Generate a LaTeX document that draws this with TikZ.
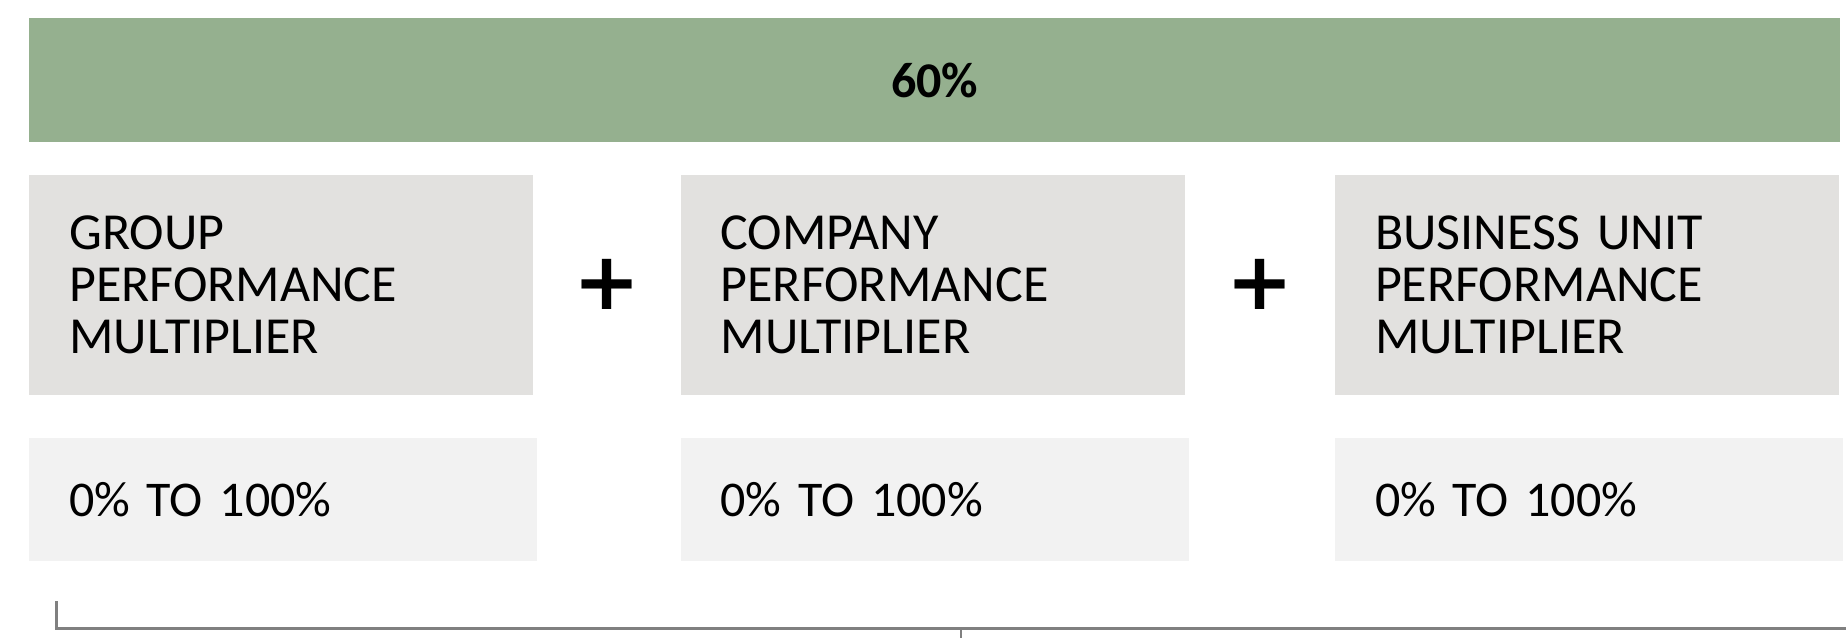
\documentclass[tikz,border=0pt]{standalone}
\usepackage{fontspec}
\setmainfont{Carlito}
\newfontfamily\plusfont{DejaVu Sans}
\usetikzlibrary{positioning,calc}

\definecolor{sagegreen}{HTML}{95B08F}
\definecolor{metricgray}{HTML}{E2E1DF}
\definecolor{rangegray}{HTML}{F2F2F2}
\definecolor{bracketgray}{HTML}{808080}

\begin{document}
\begin{tikzpicture}[x=1pt,y=1pt]
        \tikzstyle{sharebar}=[fill=sagegreen,minimum width=1811pt,minimum height=124pt,inner sep=0pt,font=\fontsize{50}{50}\selectfont\bfseries]
        \tikzstyle{metricbox}=[fill=metricgray,minimum width=504pt,minimum height=220pt,text width=424pt,inner xsep=40pt,inner ysep=0pt,align=left,font=\fontsize{52}{52}\selectfont]
        \tikzstyle{rangebox}=[fill=rangegray,minimum width=508pt,minimum height=123pt,text width=428pt,inner xsep=40pt,inner ysep=0pt,align=left,font=\fontsize{50}{50}\selectfont]
        \tikzstyle{plussign}=[inner sep=0pt,font=\plusfont\bfseries\fontsize{80}{80}\selectfont]
        \tikzstyle{bracketline}=[draw=bracketgray,line width=2.5pt]
        \useasboundingbox (0,0) rectangle (1846,-638);

        \node[sharebar,anchor=north west] (share) at (29,-18) {60\%};

        \node[metricbox] (group) [below right=32pt and 0pt of share.south west] {GROUP\\PERFORMANCE\\MULTIPLIER};
        \node[metricbox] (company) [right=147pt of group] {COMPANY\\PERFORMANCE\\MULTIPLIER};
        \node[metricbox] (unit) [right=150pt of company] {BUSINESS UNIT\\PERFORMANCE\\MULTIPLIER};

        \node[plussign] (plusA) at ($(group.east)!0.5!(company.west)$) {+};
        \node[plussign] (plusB) at ($(company.east)!0.5!(unit.west)$) {+};

        \node[rangebox] (grouprange) [below right=43pt and 0pt of group.south west] {0\% TO 100\%};
        \node[rangebox] (companyrange) [below right=43pt and 0pt of company.south west] {0\% TO 100\%};
        \node[rangebox] (unitrange) [below right=43pt and 0pt of unit.south west] {0\% TO 100\%};

        \coordinate (bracetop) at ([xshift=27.5pt,yshift=-40pt]grouprange.south west);
        \coordinate (bracecorner) at ([yshift=-27.5pt]bracetop);
        \coordinate (braceend) at (1846,0 |- bracecorner);
        \coordinate (bracetick) at (961,-638);

        \draw[bracketline] (bracetop) -- (bracecorner) -- (braceend);
        \draw[bracketline] (bracecorner -| bracetick) -- (bracetick);
    \end{tikzpicture}
\end{document}
